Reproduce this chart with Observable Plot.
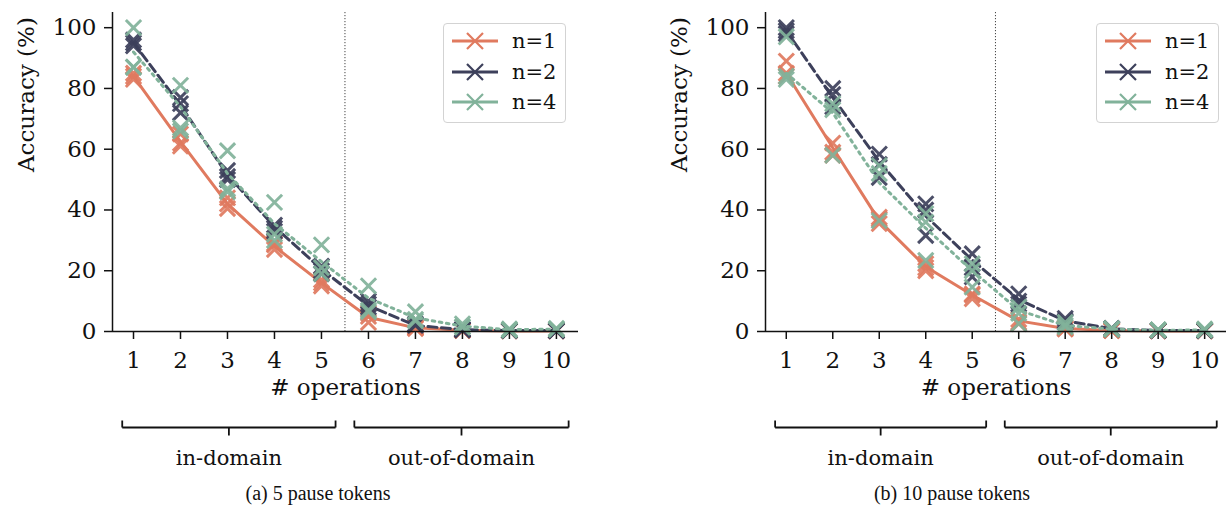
<!DOCTYPE html>
<html>
<head>
<meta charset="utf-8">
<script src="https://cdn.jsdelivr.net/npm/d3@7"></script>
<script src="https://cdn.jsdelivr.net/npm/@observablehq/plot@0.6"></script>
<style>
  html, body { margin: 0; padding: 0; background: #fff; }
  #fig { position: relative; width: 1227px; height: 510px; overflow: hidden; font-family: "DejaVu Serif", serif; }
  #fig svg, #fig svg text { font-family: "DejaVu Serif", serif; }
  .panel { position: absolute; top: 0; }
  .legend { position: absolute; top: 23px; width: 121px; height: 98px; border: 1.5px solid #d3d3d3; border-radius: 4px; background: #fff; }
  .legend .row { position: absolute; left: 0; height: 30px; }
  .legend .row span { position: absolute; left: 68px; top: 0px; font-size: 21px; line-height: 28px; color: #111; white-space: nowrap; }
  .caption { position: absolute; top: 482px; font-family: "Liberation Serif", serif; font-size: 20px; color: #111; transform: translateX(-50%); white-space: nowrap; }
</style>
</head>
<body>
<div id="fig">
  <div id="pa" class="panel" style="left:0px"></div>
  <div id="pb" class="panel" style="left:613px"></div>
  <div id="la" class="legend" style="left:443px"></div>
  <div id="lb" class="legend" style="left:1096px"></div>
  <div id="ca" class="caption" style="left:318px"></div>
  <div id="cb" class="caption" style="left:952px"></div>
</div>
<script>
// ---------- data ----------
const OPS = [1, 2, 3, 4, 5, 6, 7, 8, 9, 10];
const SERIES = ["n=1", "n=2", "n=4"];
const COLORS = ["#E07A5F", "#3D405B", "#81B29A"];
const Y_TICKS = [0, 20, 40, 60, 80, 100];
const SPLIT = 5.5;
const GROUP_LABELS = ["in-domain", "out-of-domain"];
const CAPTIONS = ["(a) 5 pause tokens", "(b) 10 pause tokens"];

// (a) 5 pause tokens: mean lines
const A_N1_MEAN = [84, 62.5, 42, 28, 16, 4.7, 1.2, 0.4, 0.2, 0.2];
const A_N2_MEAN = [95, 74.5, 51.5, 34.5, 20.5, 8.5, 2, 0.6, 0.3, 0.3];
const A_N4_MEAN = [92, 74, 52, 35.5, 23, 11, 4.5, 1.8, 0.6, 0.8];
// (a) individual runs
const A_N1_RUNS = [
  [85, 62, 44, 28.5, 17, 5, 1.5, 0.5, 0.3, 0.3],
  [83, 61, 40.5, 27, 15, 3, 1, 0.3, 0.2, 0.2],
  [84, 65, 42, 29, 16, 6, 1.2, 0.4, 0.2, 0.2]
];
const A_N2_RUNS = [
  [96, 77, 53, 35, 21.5, 10, 2.5, 0.8, 0.3, 0.3],
  [95, 72, 50, 33, 20, 8, 2, 0.5, 0.3, 0.2],
  [94, 75, 51, 34, 19, 9, 2.2, 0.6, 0.3, 0.3]
];
const A_N4_RUNS = [
  [100, 81, 59.5, 42.5, 28.5, 15, 6.5, 2.5, 0.8, 1],
  [87, 67, 46, 32, 21, 6.5, 3.5, 1.5, 0.5, 0.7],
  [87, 66, 47, 30, 19, 7, 4, 1.5, 0.5, 0.7]
];

// (b) 10 pause tokens: mean lines
const B_N1_MEAN = [85, 60.5, 36.5, 21.3, 12, 3.5, 1, 0.3, 0.2, 0.2];
const B_N2_MEAN = [99, 77, 56, 38, 23.5, 10.5, 3.5, 0.9, 0.3, 0.3];
const B_N4_MEAN = [85, 72, 49, 34, 20, 7, 2, 0.8, 0.4, 0.5];
// (b) individual runs
const B_N1_RUNS = [
  [89, 62, 37.6, 22.3, 12.4, 3, 1, 0.3, 0.2, 0.2],
  [85, 58, 35.5, 20, 10.8, 2.6, 0.8, 0.3, 0.2, 0.2],
  [84, 59, 37, 21, 12, 4, 1.2, 0.4, 0.2, 0.2]
];
const B_N2_RUNS = [
  [100, 80, 58.4, 42, 25.6, 12.4, 4.3, 1, 0.4, 0.4],
  [98, 74, 50.7, 31.6, 21, 9, 3, 0.8, 0.3, 0.3],
  [99, 78, 55, 40, 18, 10, 3.5, 1, 0.3, 0.3]
];
const B_N4_RUNS = [
  [97, 75, 54.6, 38.8, 22.3, 8, 3, 1, 0.5, 0.8],
  [83, 58, 36.5, 23.4, 14.6, 2.6, 1.5, 0.7, 0.5, 0.5],
  [84, 73, 52, 36, 20, 6, 2, 0.8, 0.5, 0.5]
];

// ---------- styling ----------
const FONT = "DejaVu Serif";
const FS = 23;
const DASHES = [null, "9,4.5", "2.6,4.6"];
const H = 480, MT = 12, MB = H - 331;
const X_DOMAIN = [0.553, 10.47];

function longLines(means) {
  return means.flatMap((vals, s) => OPS.map((x, i) => ({x, y: vals[i], s})));
}
function longRuns(runs) {
  return runs.flatMap((rs, s) => rs.flatMap((vals, r) => OPS.map((x, i) => ({x, y: vals[i], s, r}))));
}

const tickUp = {draw(ctx) { ctx.moveTo(0, 0); ctx.lineTo(0, -7); }};
const tickDown = {draw(ctx) { ctx.moveTo(0, 0); ctx.lineTo(0, 8); }};

function makePanel(means, runs, width, marginLeft, marginRight) {
  const lines = longLines(means);
  const pts = longRuns(runs);
  const inOps = OPS.filter(d => d < SPLIT), outOps = OPS.filter(d => d > SPLIT);
  const groups = [
    {label: GROUP_LABELS[0], a: d3.min(inOps) - 0.24, b: d3.max(inOps) + 0.3},
    {label: GROUP_LABELS[1], a: d3.min(outOps) - 0.3, b: d3.max(outOps) + 0.26}
  ];
  const ends = groups.flatMap(g => [g.a, g.b]);
  const mids = groups.map(g => ({x: (g.a + g.b) / 2, label: g.label}));
  const BR = 96;

  const marks = [
    Plot.ruleX([SPLIT], {stroke: "#444", strokeWidth: 1, strokeDasharray: "1.2,1.8"}),
  ];
  SERIES.forEach((name, s) => {
    marks.push(Plot.line(lines.filter(d => d.s === s), {
      x: "x", y: "y", stroke: COLORS[s], strokeWidth: 3,
      strokeDasharray: DASHES[s] || undefined, strokeLinejoin: "round"
    }));
    marks.push(Plot.dot(pts.filter(d => d.s === s), {
      x: "x", y: "y", symbol: "times", r: 7, stroke: COLORS[s], strokeWidth: 3, strokeOpacity: 0.92
    }));
  });
  marks.push(
    Plot.ruleX([X_DOMAIN[0]], {stroke: "#111", strokeWidth: 1.5}),
    Plot.ruleY([0], {stroke: "#111", strokeWidth: 1.5}),
    Plot.axisY(Y_TICKS, {tickSize: 8, tickPadding: 8, fontSize: FS, fontFamily: FONT, label: null, stroke: "#111", strokeWidth: 1.5, fill: "#111"}),
    Plot.axisX(OPS, {tickSize: 8, tickPadding: 12, fontSize: FS, fontFamily: FONT, label: null, stroke: "#111", strokeWidth: 1.5, fill: "#111"}),
    Plot.text(["# operations"], {frameAnchor: "bottom", dy: 63, fontSize: FS, fontFamily: FONT, fill: "#111"}),
    Plot.text(["Accuracy (%)"], {frameAnchor: "left", dx: -86, rotate: -90, fontSize: FS, fontFamily: FONT, fill: "#111"}),
    // brackets
    Plot.link(groups, {x1: "a", x2: "b", y1: 0, y2: 0, dy: BR, stroke: "#111", strokeWidth: 1.8}),
    Plot.dot(ends, {x: d => d, y: 0, dy: BR, symbol: tickUp, stroke: "#111", strokeWidth: 1.8, r: 4}),
    Plot.dot(mids, {x: "x", y: 0, dy: BR, symbol: tickDown, stroke: "#111", strokeWidth: 1.8, r: 4}),
    Plot.text(mids, {x: "x", y: 0, dy: BR + 31, text: "label", fontSize: 21, fontFamily: FONT, fill: "#111"})
  );

  return Plot.plot({
    width, height: H,
    marginTop: MT, marginBottom: MB, marginLeft, marginRight,
    style: {fontFamily: FONT, background: "transparent", overflow: "visible"},
    x: {domain: X_DOMAIN, axis: null},
    y: {domain: [0, 105], axis: null},
    marks
  });
}

function makeLegend(el) {
  SERIES.forEach((name, s) => {
    const row = document.createElement("div");
    row.className = "row";
    row.style.top = (3 + s * 30.7) + "px";
    row.style.width = "120px";
    row.innerHTML = `<svg width="60" height="30" style="position:absolute;left:0;top:0">
      <line x1="8" x2="54" y1="14" y2="14" stroke="${COLORS[s]}" stroke-width="3"/>
      <path d="M23,6L39,22M23,22L39,6" stroke="${COLORS[s]}" stroke-width="2.2" fill="none"/>
    </svg><span>${name}</span>`;
    el.appendChild(row);
  });
}

document.getElementById("pa").appendChild(makePanel([A_N1_MEAN, A_N2_MEAN, A_N4_MEAN], [A_N1_RUNS, A_N2_RUNS, A_N4_RUNS], 613, 112, 35));
document.getElementById("pb").appendChild(makePanel([B_N1_MEAN, B_N2_MEAN, B_N4_MEAN], [B_N1_RUNS, B_N2_RUNS, B_N4_RUNS], 614, 152, 1));
makeLegend(document.getElementById("la"));
makeLegend(document.getElementById("lb"));
document.getElementById("ca").textContent = CAPTIONS[0];
document.getElementById("cb").textContent = CAPTIONS[1];
</script>
</body>
</html>
